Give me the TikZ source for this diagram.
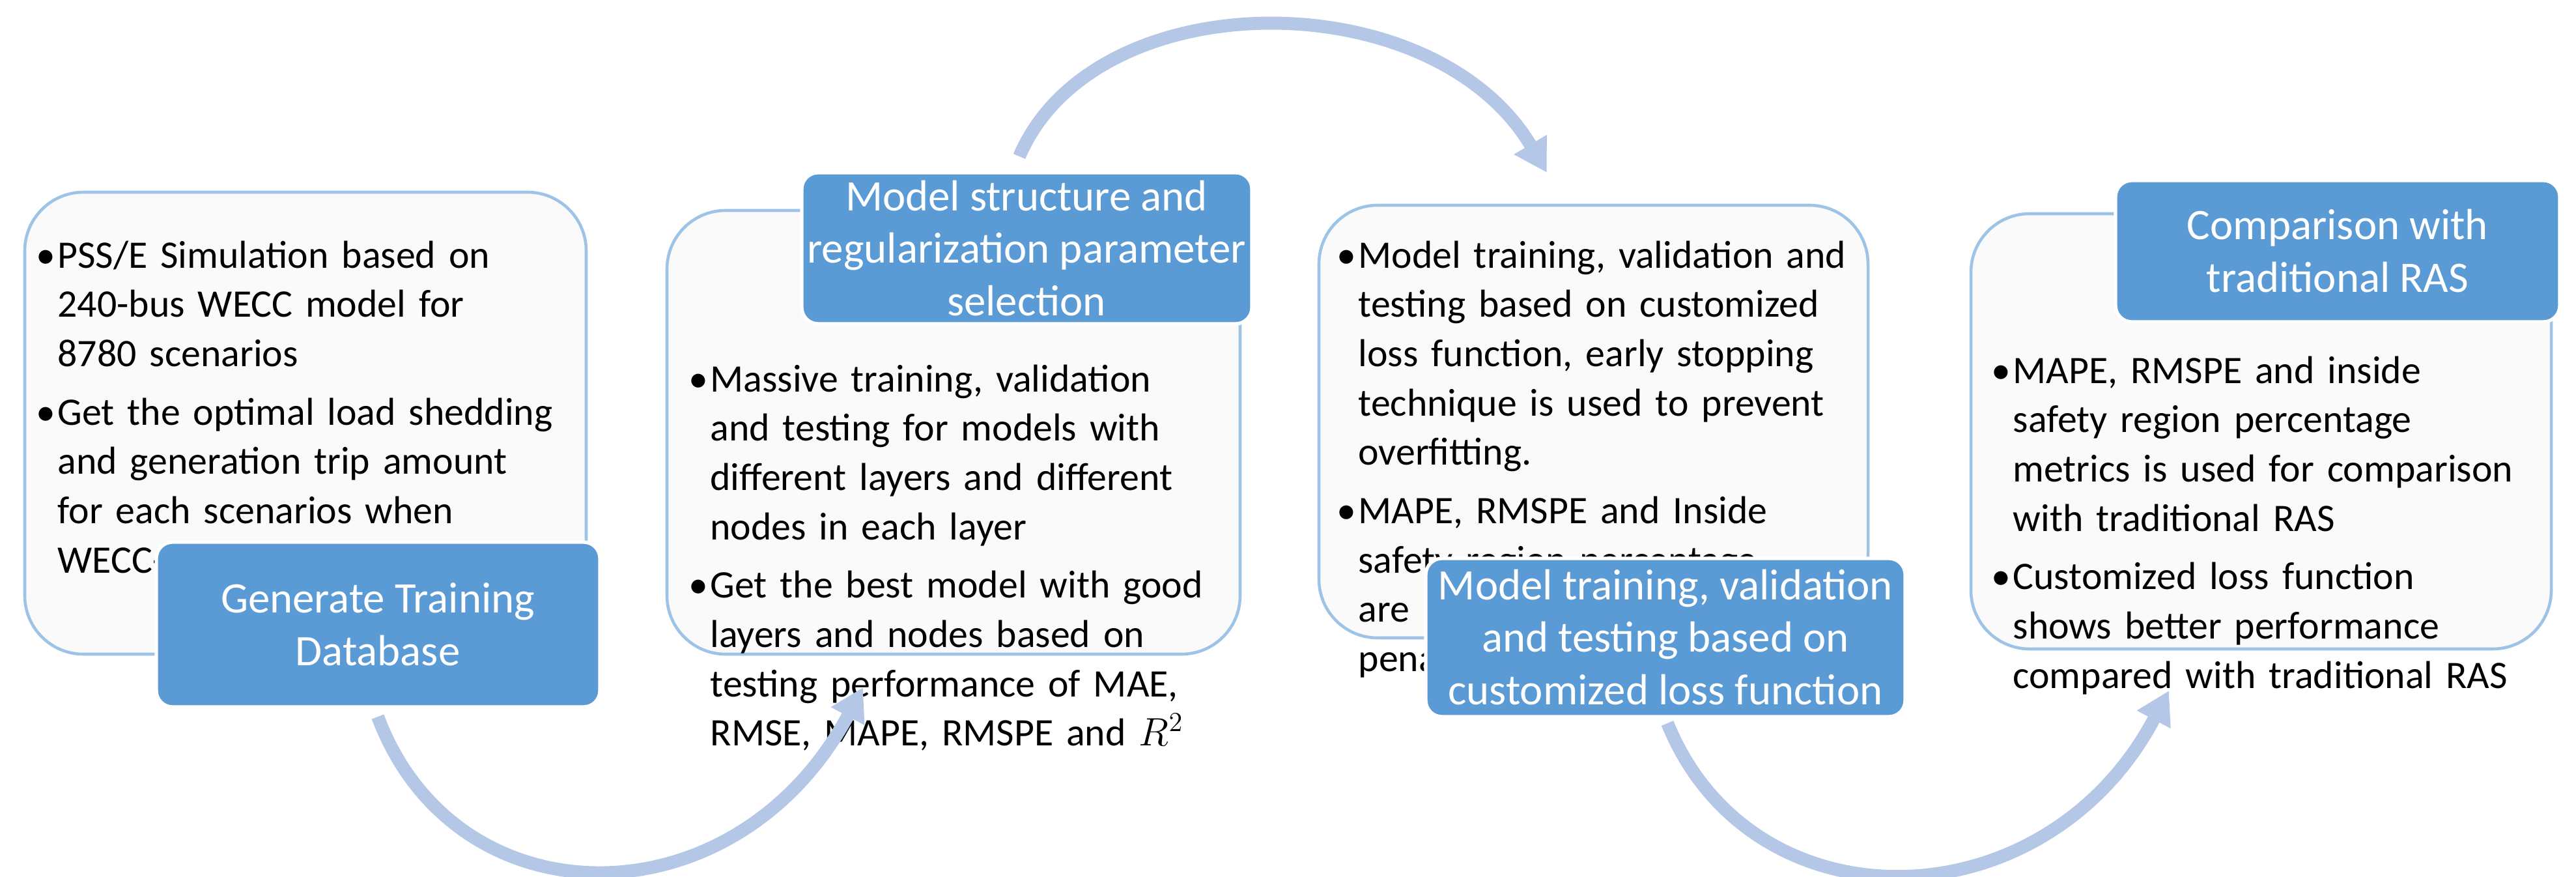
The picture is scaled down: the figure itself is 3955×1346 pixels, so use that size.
\documentclass[tikz,border=0pt]{standalone}
\usepackage{fontspec}
\setmainfont{Carlito}
\usetikzlibrary{arrows.meta}
\definecolor{tblue}{HTML}{5B9BD5}
\definecolor{lblue}{HTML}{9DC3E6}
\definecolor{abl}{HTML}{B4C7E7}
\newcommand{\bitem}[1]{\hyphenpenalty=10000 \exhyphenpenalty=10000 \par\hangindent=0.55em\hangafter=1\noindent\makebox[0.55em][l]{\textbullet}#1\par\vspace{4pt}}
\begin{document}
\begin{tikzpicture}[x=0.01cm,y=-0.01cm,
  wbox/.style={draw=lblue,line width=1.3pt,fill=white!98!black,rounded corners=0.9cm},
  bbox/.style={draw=white,line width=1.5pt,fill=tblue,rounded corners=0.25cm},
  btitle/.style={font=\fontsize{19}{23}\selectfont,text=white,align=center},
  btxt/.style={anchor=north west,inner sep=0pt,align=left,font=\fontsize{17}{21.5}\selectfont}]
\tikzset{arr/.style={abl,line width=0.2cm,-{Triangle[width=0.55cm,length=0.5cm]}}}
\useasboundingbox (0,0) rectangle (3955,1346);
% boxes
\draw[wbox] (38,295) rectangle (900,1004);
\node[btxt,text width=7.95cm] (t1) at (55,335) {\bitem{PSS/E Simulation based on 240-bus WECC model for 8780 scenarios}\bitem{Get the optimal load shedding and generation trip amount for each scenarios when WECC-1 RAS happens}};
\path[bbox] (240,832) rectangle (921,1085);
\node[btitle] (b1) at (580,958) {Generate Training\\Database};

\draw[wbox] (1024,323) rectangle (1904,1004);
\path[bbox] (1231,265) rectangle (1922,497);
\node[btitle] (b2) at (1576,381) {Model structure and\\regularization parameter\\selection};
\node[btxt,text width=8.2cm] (t2) at (1057,525) {\bitem{Massive training, validation and testing for models with different layers and different nodes in each layer}\bitem{Get the best model with good layers and nodes based on testing performance of MAE, RMSE, MAPE, RMSPE and $R^2$}};

\draw[wbox] (2025,315) rectangle (2868,979);
\node[btxt,text width=8.0cm] (t3) at (2052,335) {\bitem{Model training, validation and testing based on customized loss function, early stopping technique is used to prevent overfitting.}\bitem{MAPE, RMSPE and Inside safety region percentage are used for tuning the penalization term}};
\path[bbox] (2189,857) rectangle (2925,1100);
\node[btitle] (b3) at (2557,978) {Model training, validation\\and testing based on\\customized loss function};

\draw[wbox] (3026,328) rectangle (3917,996);
\path[bbox] (3248,277) rectangle (3930,494);
\node[btitle] (b4) at (3589,385) {Comparison with\\traditional RAS};
\node[btxt,text width=8.2cm] (t4) at (3057,512) {\bitem{MAPE, RMSPE and inside safety region percentage metrics is used for comparison with traditional RAS}\bitem{Customized loss function shows better performance compared with traditional RAS}};

% arrows
\coordinate (s1) at (580,1100); \coordinate (e1) at (1325,1055);
\coordinate (s2) at (1565,240); \coordinate (e2) at (2375,265);
\coordinate (s3) at (2560,1110); \coordinate (e3) at (3330,1060);
\draw[arr] (s1) .. controls (700,1420) and (1130,1420) .. (e1);
\draw[arr] (s2) .. controls (1680,-30) and (2200,-30) .. (e2);
\draw[arr] (s3) .. controls (2690,1430) and (3140,1420) .. (e3);
\end{tikzpicture}
\end{document}
